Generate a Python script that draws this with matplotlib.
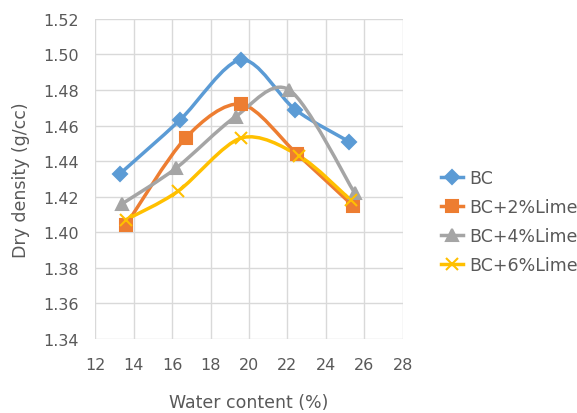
import numpy as np
import matplotlib
matplotlib.use("Agg")
import matplotlib.pyplot as plt
from matplotlib.path import Path
from matplotlib.patches import PathPatch
from matplotlib.lines import Line2D

# data
bc_x = [13.3, 16.4, 19.6, 22.4, 25.2]
bc_y = [1.433, 1.463, 1.497, 1.469, 1.451]
l2_x = [13.6, 16.7, 19.6, 22.5, 25.4]
l2_y = [1.404, 1.453, 1.472, 1.444, 1.415]
l4_x = [13.4, 16.2, 19.3, 22.1, 25.5]
l4_y = [1.416, 1.436, 1.465, 1.480, 1.422]
l6_x = [13.6, 16.3, 19.6, 22.6, 25.3]
l6_y = [1.407, 1.423, 1.453, 1.443, 1.418]

names = ["BC", "BC+2%Lime", "BC+4%Lime", "BC+6%Lime"]
colors = ["#5B9BD5", "#ED7D31", "#A5A5A5", "#FFC000"]
markers = ["D", "s", "^", "x"]
msizes = [7, 9, 8, 9]

plt.rcParams['font.family'] = ['DejaVu Sans']

fig = plt.figure(figsize=(5.77, 4.14), dpi=100)
ax = fig.add_axes([0.165, 0.179, 0.533, 0.773])


def smooth_path(xs, ys, t=0.15):
    # Excel-like smoothed line as cubic bezier segments
    p = np.column_stack([xs, ys])
    n = len(p)
    verts = [p[0]]
    codes = [Path.MOVETO]
    for i in range(n - 1):
        p0 = p[i - 1] if i > 0 else p[i]
        p3 = p[i + 2] if i + 2 < n else p[i + 1]
        c1 = p[i] + (p[i + 1] - p0) * t
        c2 = p[i + 1] - (p3 - p[i]) * t
        verts += [c1, c2, p[i + 1]]
        codes += [Path.CURVE4] * 3
    return Path(verts, codes)


series = [(bc_x, bc_y), (l2_x, l2_y), (l4_x, l4_y), (l6_x, l6_y)]
for (xs, ys), c, m, ms in zip(series, colors, markers, msizes):
    patch = PathPatch(smooth_path(xs, ys), facecolor="none", edgecolor=c,
                      lw=2.5, zorder=3, capstyle="round", joinstyle="round")
    ax.add_patch(patch)
    ax.plot(xs, ys, ls="none", marker=m, ms=ms, mew=1.5, color=c, zorder=4)

ax.set_xlim(12, 28)
ax.set_ylim(1.34, 1.52)
ax.set_xticks(np.arange(12, 29, 2))
ax.set_yticks(np.arange(1.34, 1.521, 0.02))
ax.set_yticklabels(["%.2f" % v for v in np.arange(1.34, 1.521, 0.02)])
ax.grid(True, color="#D9D9D9", lw=1)
ax.set_axisbelow(True)
for s in ax.spines.values():
    s.set_visible(False)
ax.tick_params(length=0, labelsize=11.5, colors="#595959")
ax.tick_params(axis="y", pad=12)
ax.tick_params(axis="x", pad=13)
ax.set_xlabel("Water content (%)", fontsize=12.5, color="#595959", labelpad=15)
ax.set_ylabel("Dry density (g/cc)", fontsize=12.5, color="#595959", labelpad=9)

handles = []
for n, c, m, ms in zip(names, colors, markers, msizes):
    handles.append(Line2D([], [], color=c, lw=2.5, marker=m, ms=ms, mew=1.5, label=n))
fig.legend(handles=handles, loc="upper left", bbox_to_anchor=(0.752, 0.605),
           frameon=False, fontsize=12.5, labelcolor="#595959", handlelength=1.3,
           handletextpad=0.35, labelspacing=0.62, borderaxespad=0)

fig.savefig("out.png", dpi=100)
